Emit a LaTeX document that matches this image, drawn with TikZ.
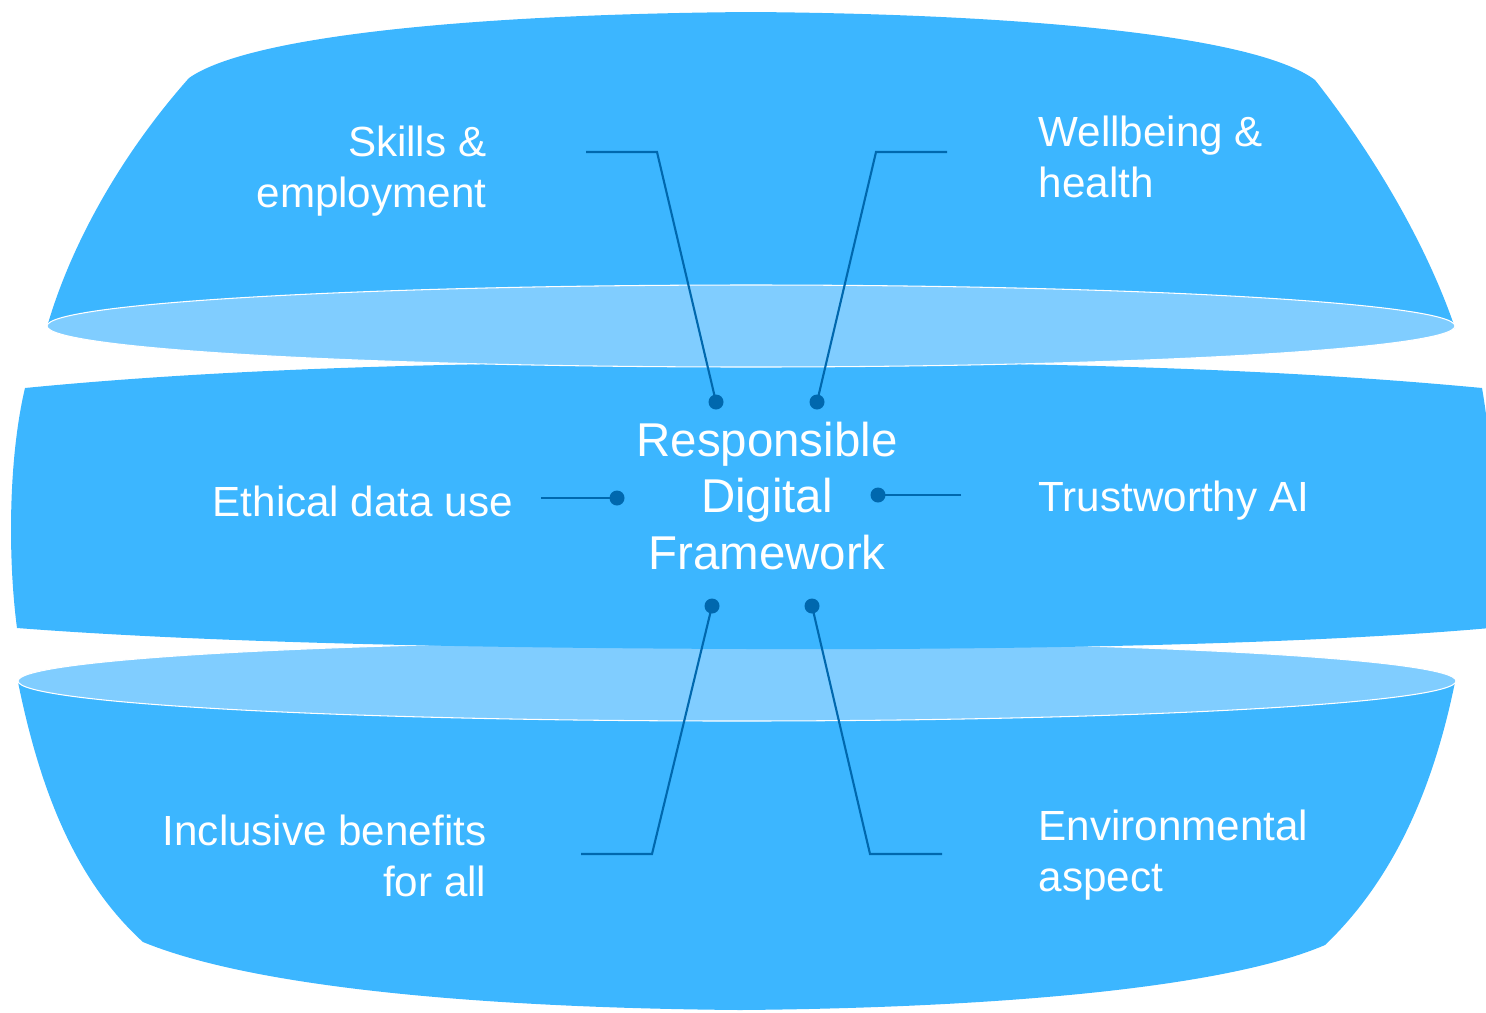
\documentclass[tikz,border=0pt]{standalone}
\usepackage{fontspec}
\setmainfont{Liberation Sans}
\usepackage{tikz}
\usetikzlibrary{positioning, calc}
\definecolor{capblue}{RGB}{60,182,255}
\definecolor{rimblue}{RGB}{128,205,255}
\definecolor{linkblue}{RGB}{0,104,174}

\begin{document}
\begin{tikzpicture}[x=0.1mm, y=-0.1mm,
    layer/.style={fill=capblue},
    rim/.style={fill=rimblue, draw=white, line width=0.3pt},
    itemtext/.style={text=white, inner sep=0pt, font=\fontsize{12}{14.5}\selectfont},
    coretext/.style={text=white, inner sep=0pt, align=center, font=\fontsize{13.5}{16.2}\selectfont},
    link/.style={draw=linkblue, line width=0.6pt},
    pin/.style={circle, fill=linkblue, inner sep=0pt, minimum size=1.5mm}]
    \useasboundingbox (0,0) rectangle (1486,1012);

    % 下层碗
    \fill[layer] (18,682) .. controls (40,790) and (75,880) .. (143,942)
        .. controls (260,990) and (500,1008) .. (740,1010)
        .. controls (980,1008) and (1220,990) .. (1325,945)
        .. controls (1393,880) and (1433,790) .. (1455,682) -- cycle;
    \filldraw[rim] (737,681) ellipse [x radius=719, y radius=40];

    % 中层
    \fill[layer] (25,388) .. controls (250,366) and (500,362) .. (751,362)
        .. controls (1000,362) and (1250,366) .. (1482,388)
        .. controls (1496,470) and (1496,560) .. (1490,628)
        .. controls (1300,645) and (1000,650) .. (751,649)
        .. controls (450,648) and (200,642) .. (17,628)
        .. controls (8,560) and (8,460) .. (25,388) -- cycle;

    % 上层盖
    \fill[layer] (47,327) .. controls (72,240) and (125,150) .. (189,78)
        .. controls (250,35) and (480,14) .. (751,12)
        .. controls (1020,14) and (1255,35) .. (1315,80)
        .. controls (1370,150) and (1425,240) .. (1455,328) -- cycle;
    \filldraw[rim] (751,326) ellipse [x radius=704, y radius=41];

    % 中心文字
    \node[coretext] (core) at (767,496) {Responsible\\Digital\\Framework};

    % 六个主题
    \node[itemtext, align=right, anchor=base east] (skills) at (487,207) {Skills \&\\employment};
    \node[itemtext, align=left, anchor=base west] (wellbeing) at (1038,197) {Wellbeing \&\\health};
    \node[itemtext, anchor=base west] (ethical) at (212,516) {Ethical data use};
    \node[itemtext, anchor=base west] (trust) at (1038,511) {Trustworthy AI};
    \node[itemtext, align=right, anchor=base east] (inclusive) at (487,896) {Inclusive benefits\\for all};
    \node[itemtext, align=left, anchor=base west] (environ) at (1038,891) {Environmental\\aspect};

    % 连线
    \node[pin] (skills-p) at (716,402) {};
    \node[pin] (wellbeing-p) at (817,402) {};
    \node[pin] (ethical-p) at (617,498) {};
    \node[pin] (trust-p) at (878,495) {};
    \node[pin] (inclusive-p) at (712,606) {};
    \node[pin] (environ-p) at (812,606) {};
    \coordinate (skills-a) at (586,152);
    \coordinate (skills-b) at (657,152);
    \coordinate (wellbeing-a) at (947,152);
    \coordinate (wellbeing-b) at (876,152);
    \coordinate (ethical-a) at (541,498);
    \coordinate (trust-a) at (961,495);
    \coordinate (inclusive-a) at (581,854);
    \coordinate (inclusive-b) at (652,854);
    \coordinate (environ-a) at (942,854);
    \coordinate (environ-b) at (870,854);
    \draw[link] (skills-a) -- (skills-b) -- (skills-p.center);
    \draw[link] (wellbeing-a) -- (wellbeing-b) -- (wellbeing-p.center);
    \draw[link] (ethical-a) -- (ethical-p.center);
    \draw[link] (trust-a) -- (trust-p.center);
    \draw[link] (inclusive-a) -- (inclusive-b) -- (inclusive-p.center);
    \draw[link] (environ-a) -- (environ-b) -- (environ-p.center);
\end{tikzpicture}
\end{document}
